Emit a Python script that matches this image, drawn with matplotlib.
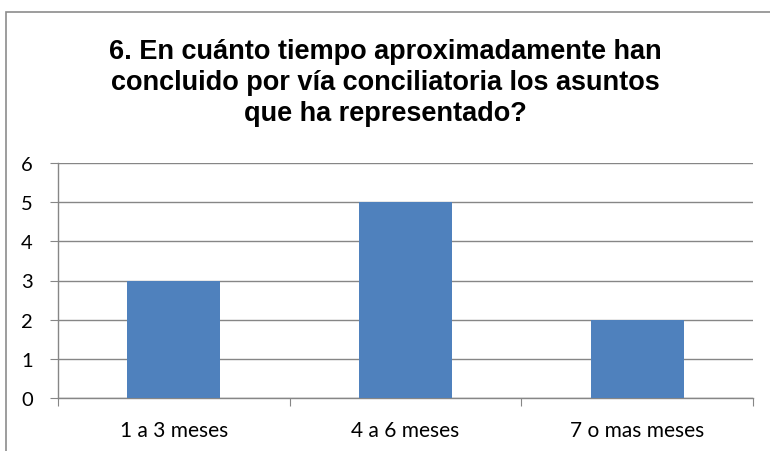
import matplotlib.pyplot as plt
from matplotlib.patches import Rectangle

categories = ['1 a 3 meses', '4 a 6 meses', '7 o mas meses']
values = [3, 5, 2]
yticks = [0, 1, 2, 3, 4, 5, 6]
title = ('6. En cuánto tiempo aproximadamente han\n'
         'concluido por vía conciliatoria los asuntos\n'
         'que ha representado?')

fig = plt.figure(figsize=(7.7, 4.52), dpi=100)
ax = fig.add_axes([58 / 770, 1 - 399 / 452, (753 - 58) / 770, (399 - 164) / 452])

# chart border, cut off on the right and bottom like the screenshot
fig.patches.append(Rectangle((6 / 770, -0.1), 1.2, 1 - 13 / 452 + 0.1,
                             transform=fig.transFigure, fill=False,
                             edgecolor='#8c8c8c', linewidth=1.2))

x = range(len(categories))
ax.bar(x, values, width=0.4, color='#4f81bd', zorder=3)

ax.set_xlim(-0.5, 2.5)
ax.set_ylim(0, 6)
ax.set_yticks(yticks)
ax.grid(axis='y', color='#868686', linewidth=1, zorder=0)

for s in ['top', 'right']:
    ax.spines[s].set_visible(False)
for s in ['left', 'bottom']:
    ax.spines[s].set_color('#868686')
    ax.spines[s].set_linewidth(1)

ax.set_xticks([-0.5, 0.5, 1.5, 2.5])
ax.set_xticklabels([])
ax.set_xticks(list(x), minor=True)
ax.set_xticklabels(categories, minor=True, fontsize=15, family='Lato')
ax.tick_params(axis='x', which='major', length=6, color='#868686')
ax.tick_params(axis='x', which='minor', length=0, pad=16)
ax.tick_params(axis='y', length=6, color='#868686', labelsize=14.5, pad=12)
for lab in ax.get_yticklabels():
    lab.set_family('Lato')

fig.text(0.5, 1 - 83 / 452, title, ha='center', va='center',
         fontsize=19.5, fontweight='bold', family='Liberation Sans',
         linespacing=1.25)

fig.savefig('out.png', dpi=100)
